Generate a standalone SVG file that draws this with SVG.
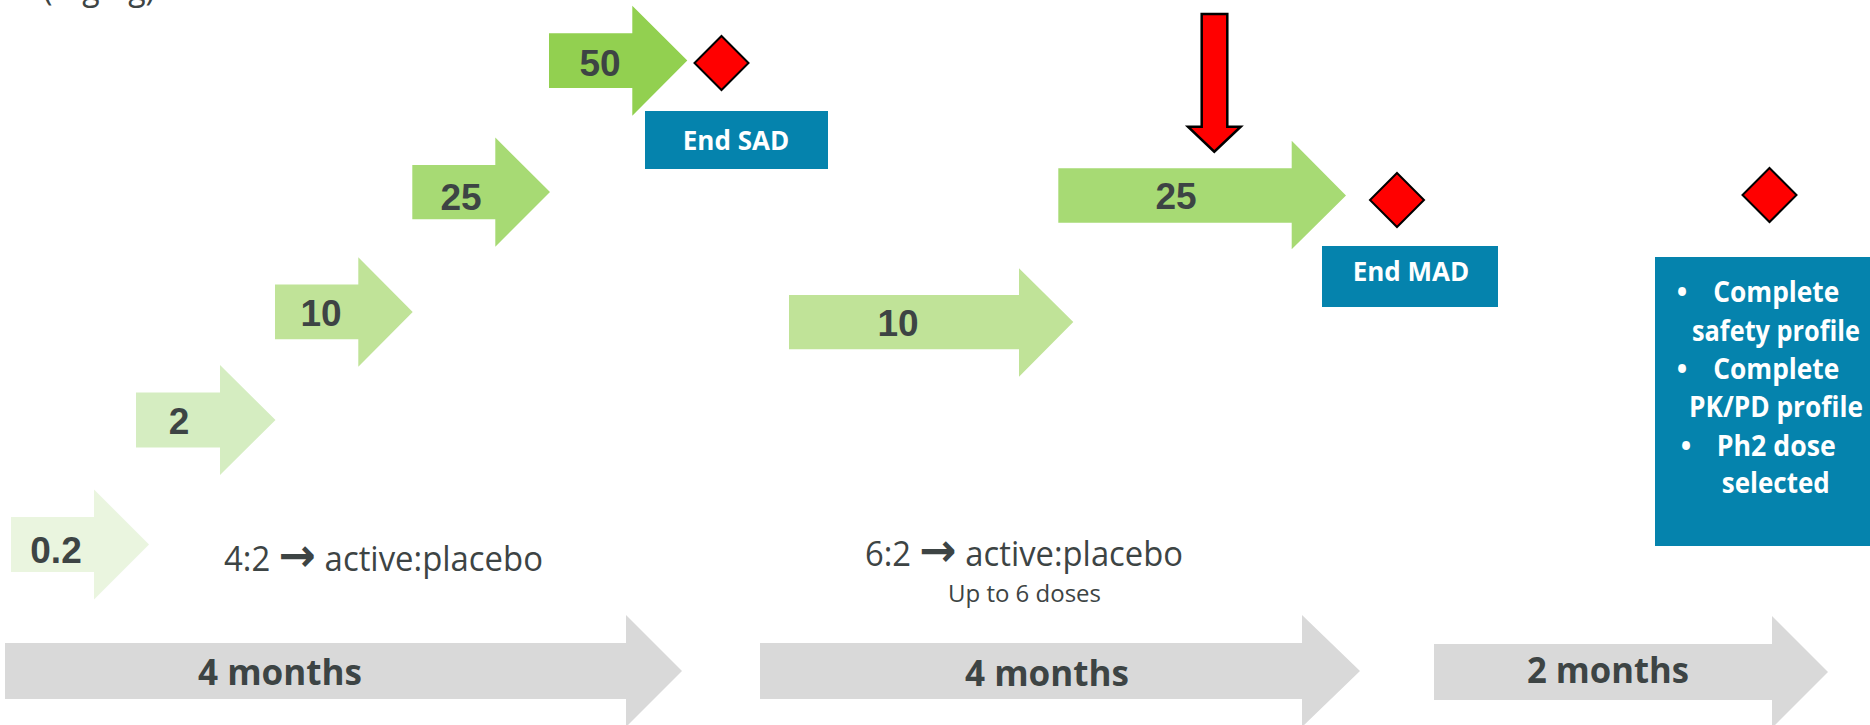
<svg xmlns="http://www.w3.org/2000/svg" width="1870" height="725" viewBox="0 0 1870 725">
<style>
.num{font-family:"Liberation Sans",Arial,sans-serif;font-weight:bold;font-size:37px;fill:#3D4444;text-anchor:middle}
.lbl{font-family:"Open Sans","Liberation Sans",sans-serif;fill:#3D4444}
.arr{font-family:"DejaVu Sans",sans-serif;font-weight:bold;font-size:46px}
.dur{font-family:"Open Sans","Liberation Sans",sans-serif;font-weight:bold;font-size:36px;fill:#3D4444;text-anchor:middle}
.wt{font-family:"Open Sans","Liberation Sans",sans-serif;font-weight:bold;fill:#FFFFFF;text-anchor:middle}
.blue{fill:#0583AD}
.dia{fill:#FF0000;stroke:#000000;stroke-width:2;stroke-linejoin:miter}
.gray{fill:#D9D9D9}
</style>
<rect width="1870" height="725" fill="#FFFFFF"/>
<text class="lbl" x="43" y="0" font-size="34" textLength="112" lengthAdjust="spacingAndGlyphs">(mg/kg)</text>

<g id="timeline-sad">
<polygon class="gray" points="5,643 626,643 626,615 682,671 626,727 626,699 5,699"/>
<text class="dur" x="280" y="685" textLength="164" lengthAdjust="spacingAndGlyphs">4 months</text>
</g>
<g id="timeline-mad">
<polygon class="gray" points="760,643 1302,643 1302,615 1360,671 1302,727 1302,699 760,699"/>
<text class="dur" x="1047" y="686" textLength="164" lengthAdjust="spacingAndGlyphs">4 months</text>
</g>
<g id="timeline-final">
<polygon class="gray" points="1434,644 1772,644 1772,616 1828,672 1772,728 1772,700 1434,700"/>
<text class="dur" x="1608" y="683" textLength="162" lengthAdjust="spacingAndGlyphs">2 months</text>
</g>

<g id="dose-0-2">
<polygon fill="#EAF5DF" points="11,517 94,517 94,489.5 149,544.5 94,599.5 94,572 11,572"/>
<text class="num" x="56" y="563">0.2</text>
</g>
<g id="dose-2">
<polygon fill="#D5EDC1" points="136,392.5 220,392.5 220,365 275.5,420 220,475 220,447.5 136,447.5"/>
<text class="num" x="179" y="434">2</text>
</g>
<g id="dose-10">
<polygon fill="#C0E398" points="275,284.5 358.3,284.5 358.3,257.3 412.7,312 358.3,366.7 358.3,339.3 275,339.3"/>
<text class="num" x="321" y="326">10</text>
</g>
<g id="dose-25">
<polygon fill="#A7DA74" points="412.3,165 495.3,165 495.3,137.5 550,192 495.3,246.7 495.3,219.3 412.3,219.3"/>
<text class="num" x="461" y="210">25</text>
</g>
<g id="dose-50">
<polygon fill="#92D050" points="549,33.3 632.3,33.3 632.3,5.7 687.3,60.5 632.3,115.7 632.3,88 549,88"/>
<text class="num" x="600" y="76">50</text>
</g>
<g id="milestone-sad">
<polygon class="dia" points="721.5,36 748.5,63 721.5,90 694.5,63"/>
</g>
<g id="end-sad">
<rect class="blue" x="645" y="111" width="183" height="58"/>
<text class="wt" x="736" y="150" font-size="26">End SAD</text>
</g>
<text class="lbl" x="224" y="571" font-size="34" textLength="319" lengthAdjust="spacingAndGlyphs">4:2 <tspan class="arr">→</tspan> active:placebo</text>

<g id="mad-10">
<polygon fill="#C0E398" points="789,295 1019,295 1019,268.3 1073.3,322 1019,376.7 1019,349.3 789,349.3"/>
<text class="num" x="898" y="336">10</text>
</g>
<g id="mad-25">
<polygon fill="#A7DA74" points="1058.3,168.3 1291.7,168.3 1291.7,140.7 1346,195.5 1291.7,249.3 1291.7,222.7 1058.3,222.7"/>
<text class="num" x="1176" y="209">25</text>
</g>
<g id="milestone-mad">
<polygon class="dia" points="1397,173 1424,200 1397,227 1370,200"/>
</g>
<g id="end-mad">
<rect class="blue" x="1322" y="246" width="176" height="61"/>
<text class="wt" x="1411" y="281" font-size="26">End MAD</text>
</g>
<text class="lbl" x="865" y="566" font-size="34" textLength="318" lengthAdjust="spacingAndGlyphs">6:2 <tspan class="arr">→</tspan> active:placebo</text>
<text class="lbl" x="1024.5" y="602" font-size="23" text-anchor="middle" textLength="153" lengthAdjust="spacingAndGlyphs">Up to 6 doses</text>

<g id="milestone-final">
<polygon class="dia" points="1769.5,168 1796.5,195 1769.5,222 1742.5,195"/>
</g>
<g id="outcomes">
<rect class="blue" x="1655" y="257" width="215" height="289"/>
<g class="wt" font-size="28">
<text x="1682" y="301.7">•</text>
<text x="1776.3" y="301.7" textLength="126" lengthAdjust="spacingAndGlyphs">Complete</text>
<text x="1776" y="340.5" textLength="168" lengthAdjust="spacingAndGlyphs">safety profile</text>
<text x="1682" y="379.3">•</text>
<text x="1776.3" y="379.3" textLength="126" lengthAdjust="spacingAndGlyphs">Complete</text>
<text x="1776" y="416.7" textLength="174" lengthAdjust="spacingAndGlyphs">PK/PD profile</text>
<text x="1686" y="456">•</text>
<text x="1776.3" y="456" textLength="119" lengthAdjust="spacingAndGlyphs">Ph2 dose</text>
<text x="1775.8" y="493.3" textLength="108" lengthAdjust="spacingAndGlyphs">selected</text>
</g>
</g>

<g id="connectors">
<polygon fill="#FF0000" stroke="#000000" stroke-width="2.5" points="1201.7,14 1227.3,14 1227.3,126.7 1240.7,126.7 1214.3,151.7 1188,126.7 1201.7,126.7"/>
</g>
</svg>
